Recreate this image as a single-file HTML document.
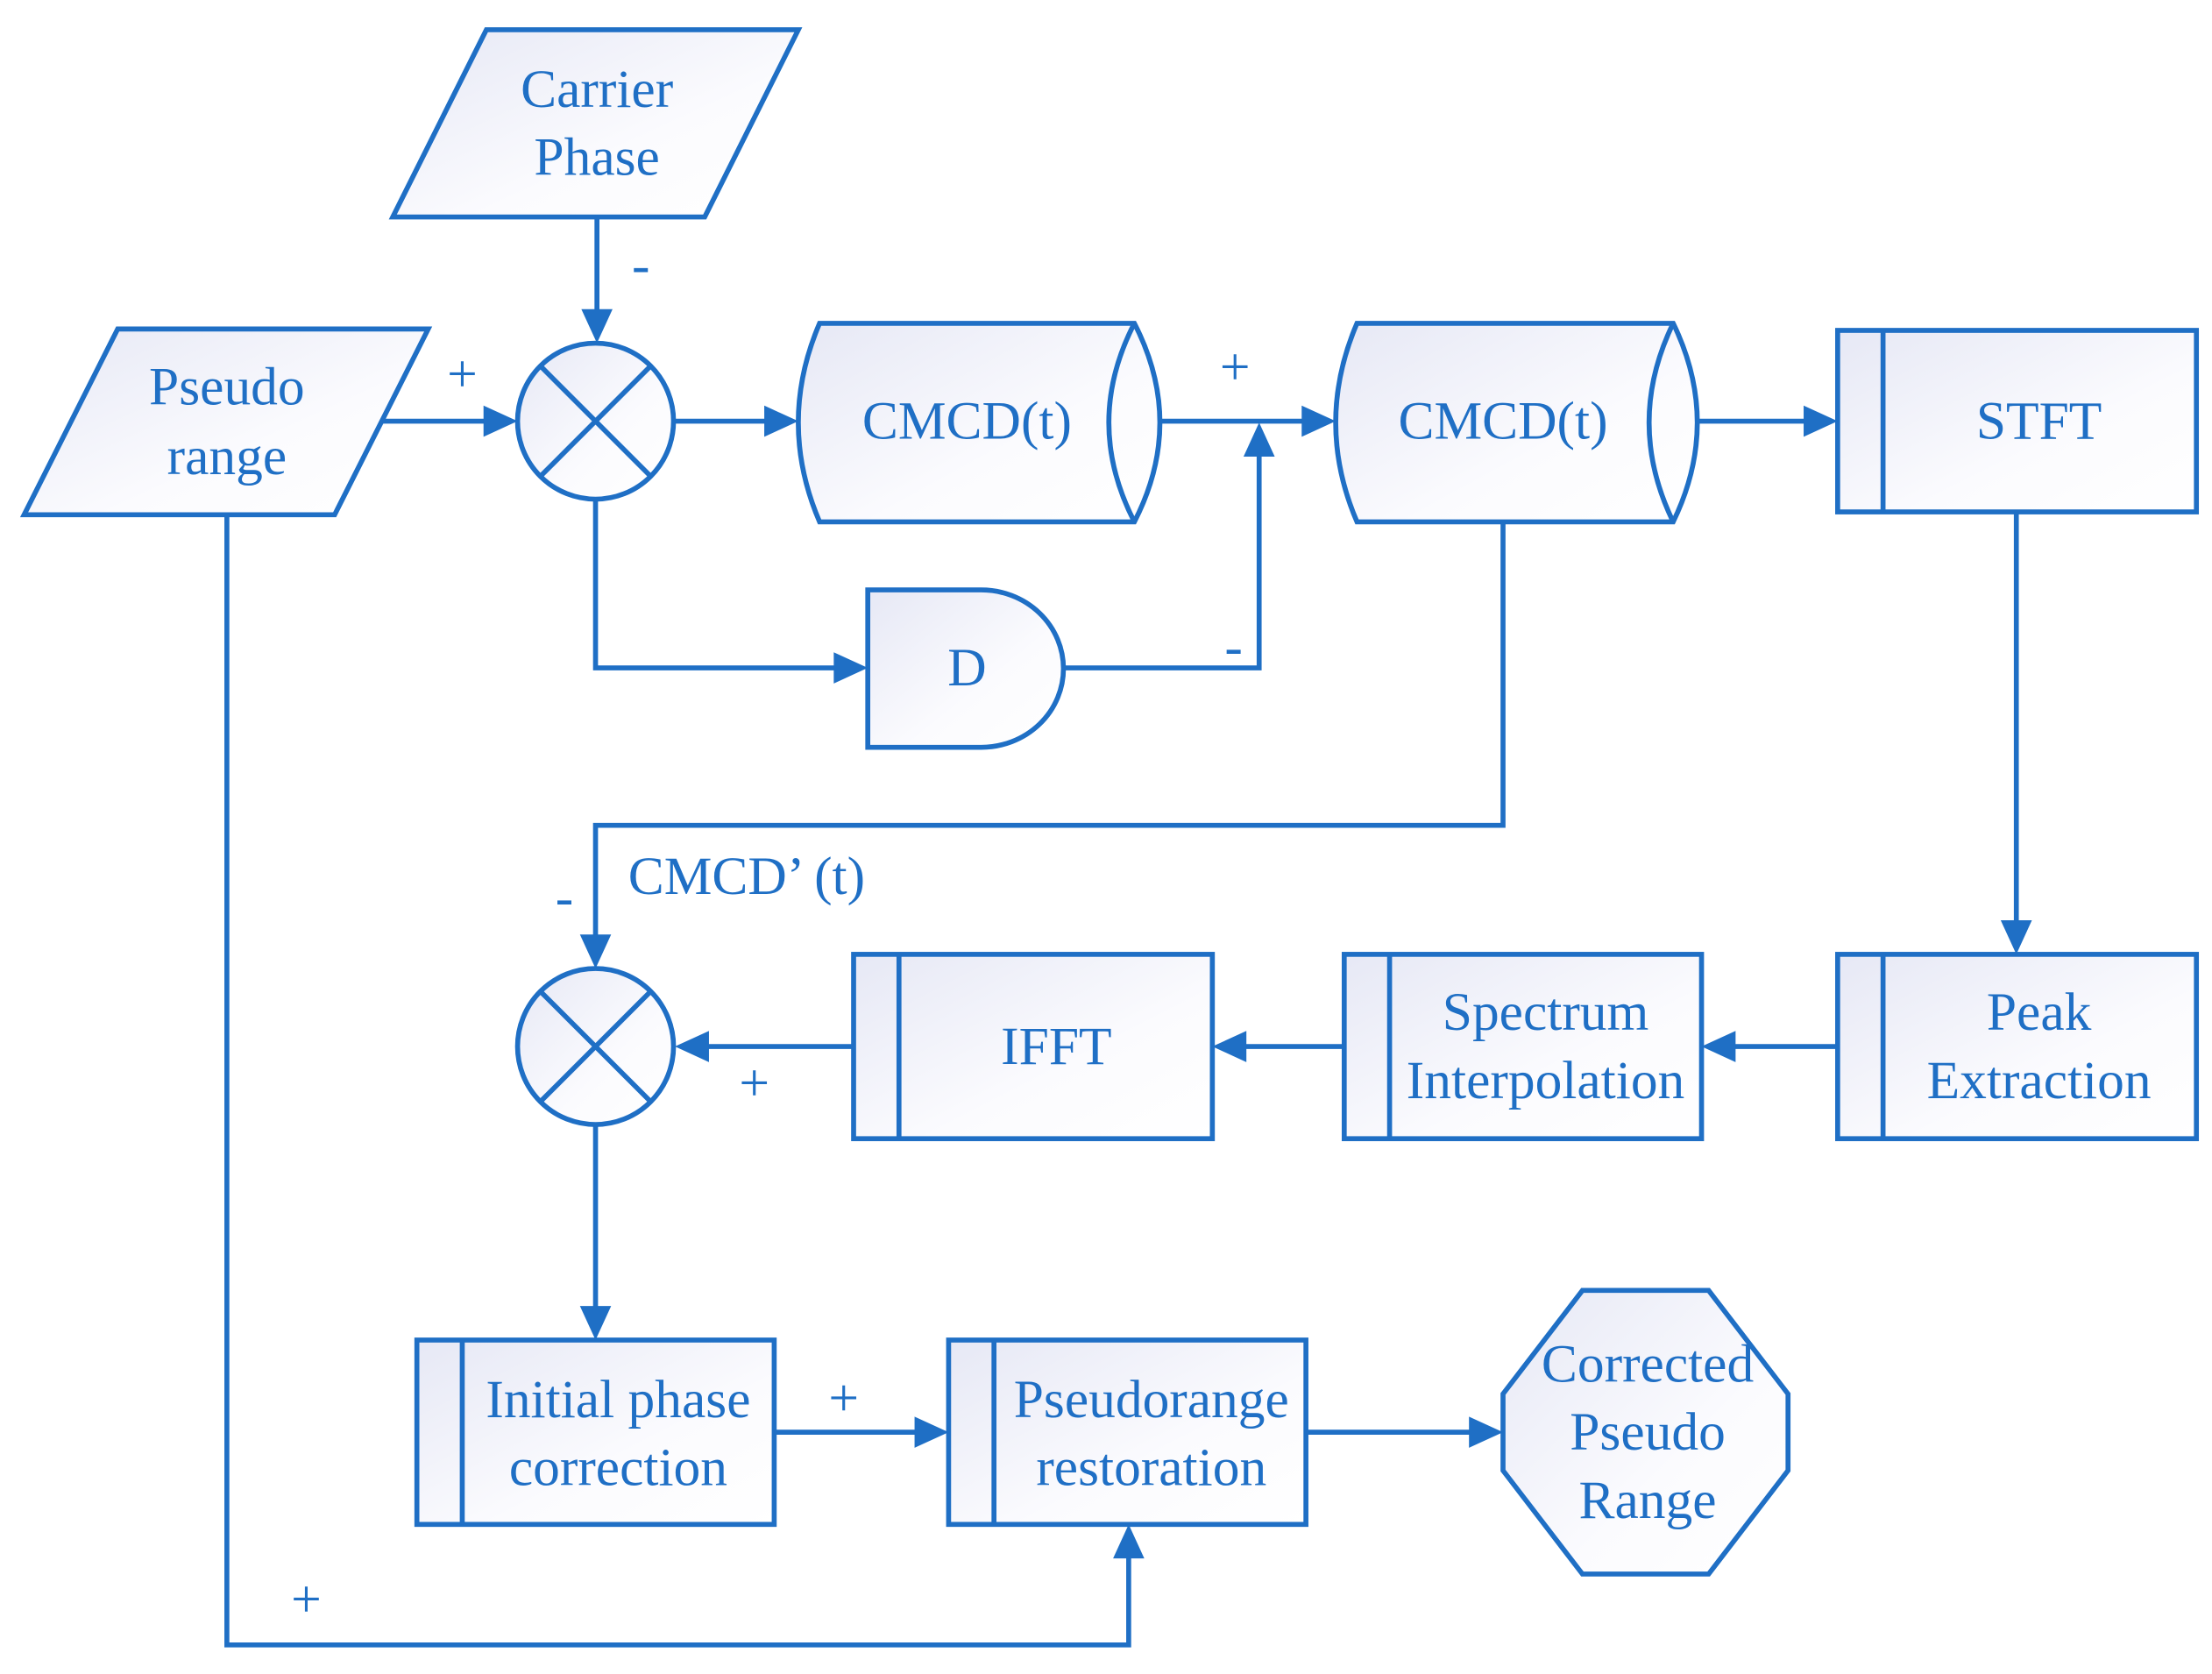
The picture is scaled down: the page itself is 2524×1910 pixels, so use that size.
<!DOCTYPE html>
<html><head><meta charset="utf-8"><style>
html,body{margin:0;padding:0;background:#fff;}
svg{display:block;}
text{font-family:"Liberation Serif",serif;font-size:38px;fill:#1f6fc5;text-anchor:middle;dominant-baseline:central;}
</style></head><body>
<svg width="2524" height="1910" viewBox="0 0 1560 1180.5" preserveAspectRatio="none" xmlns="http://www.w3.org/2000/svg">
<defs>
<linearGradient id="g" x1="0" y1="0" x2="1" y2="1">
<stop offset="0" stop-color="#e6e8f5"/><stop offset="0.6" stop-color="#fbfbfe"/><stop offset="1" stop-color="#ffffff"/>
</linearGradient>
</defs>
<g fill="url(#g)" stroke="#1f6fc5" stroke-width="3.5">
<polygon points="343,21 563,21 497,153 277,153"/>
<polygon points="83,232 302,232 236,363 17,363"/>
<circle cx="420" cy="297" r="55"/>
<circle cx="420" cy="738" r="55"/>
<path d="M578,228 L800,228 Q836,298 800,368 L578,368 Q548,298 578,228 Z"/>
<path d="M800,228 Q764,298 800,368" fill="none"/>
<path d="M957,228 L1180,228 Q1214,298 1180,368 L957,368 Q927,298 957,228 Z"/>
<path d="M1180,228 Q1146,298 1180,368" fill="none"/>
<path d="M612,416 H692 A 58,55.5 0 0 1 692,527 H612 Z"/>
<rect x="1296" y="233" width="253" height="128"/><line x1="1328" y1="233" x2="1328" y2="361"/>
<rect x="1296" y="673" width="253" height="130"/><line x1="1328" y1="673" x2="1328" y2="803"/>
<rect x="948" y="673" width="252" height="130"/><line x1="980" y1="673" x2="980" y2="803"/>
<rect x="602" y="673" width="253" height="130"/><line x1="634" y1="673" x2="634" y2="803"/>
<rect x="294" y="945" width="252" height="130"/><line x1="326" y1="945" x2="326" y2="1075"/>
<rect x="669" y="945" width="252" height="130"/><line x1="701" y1="945" x2="701" y2="1075"/>
<polygon points="1116,910 1205,910 1261,983 1261,1037 1205,1110 1116,1110 1060,1037 1060,983"/>
</g>
<g stroke="#1f6fc5" stroke-width="3.5" fill="none">
<line x1="381" y1="258" x2="459" y2="336"/><line x1="459" y1="258" x2="381" y2="336"/>
<line x1="381" y1="699" x2="459" y2="777"/><line x1="459" y1="699" x2="381" y2="777"/>
<line x1="421" y1="153" x2="421" y2="225"/>
<line x1="270" y1="297" x2="345" y2="297"/>
<line x1="476" y1="297" x2="545" y2="297"/>
<line x1="818" y1="297" x2="924" y2="297"/>
<polyline points="750,471 888,471 888,318"/>
<polyline points="420,352 420,471 594,471"/>
<line x1="1196" y1="297" x2="1278" y2="297"/>
<line x1="1422" y1="361" x2="1422" y2="655"/>
<polyline points="1060,368 1060,582 420,582 420,665"/>
<line x1="1296" y1="738" x2="1218" y2="738"/>
<line x1="948" y1="738" x2="873" y2="738"/>
<line x1="602" y1="738" x2="494" y2="738"/>
<line x1="420" y1="793" x2="420" y2="927"/>
<line x1="546" y1="1010" x2="651" y2="1010"/>
<line x1="921" y1="1010" x2="1042" y2="1010"/>
<polyline points="160,363 160,1160 796,1160 796,1093"/>
</g>
<g fill="#1f6fc5">
<polygon points="421,242 410,218 432,218"/>
<polygon points="365,297 341,286 341,308"/>
<polygon points="563,297 539,286 539,308"/>
<polygon points="942,297 918,286 918,308"/>
<polygon points="888,298 877,322 899,322"/>
<polygon points="612,471 588,460 588,482"/>
<polygon points="1296,297 1272,286 1272,308"/>
<polygon points="1422,673 1411,649 1433,649"/>
<polygon points="420,683 409,659 431,659"/>
<polygon points="1200,738 1224,727 1224,749"/>
<polygon points="855,738 879,727 879,749"/>
<polygon points="476,738 500,727 500,749"/>
<polygon points="420,945 409,921 431,921"/>
<polygon points="669,1010 645,999 645,1021"/>
<polygon points="1060,1010 1036,999 1036,1021"/>
<polygon points="796,1075 785,1099 807,1099"/>
</g>
<text x="421" y="63">Carrier</text><text x="421" y="111">Phase</text>
<text x="160" y="273">Pseudo</text><text x="160" y="322">range</text>
<text x="682" y="297">CMCD(t)</text>
<text x="1060" y="297">CMCD(t)</text>
<text x="682" y="471">D</text>
<text x="1438" y="297">STFT</text>
<text x="1438" y="714">Peak</text><text x="1438" y="762">Extraction</text>
<text x="1090" y="714">Spectrum</text><text x="1090" y="762">Interpolation</text>
<text x="745" y="738">IFFT</text>
<text x="436" y="987">Initial phase</text><text x="436" y="1035">correction</text>
<text x="812" y="987">Pseudorange</text><text x="812" y="1035">restoration</text>
<text x="1162" y="962">Corrected</text><text x="1162" y="1010">Pseudo</text><text x="1162" y="1058">Range</text>
<text x="443" y="618" style="text-anchor:start">CMCD’ (t)</text>
<g style="font-size:30px">
<text x="452" y="187">-</text>
<text x="326" y="264">+</text>
<text x="871" y="259">+</text>
<text x="870" y="456">-</text>
<text x="398" y="633">-</text>
<text x="532" y="764">+</text>
<text x="595" y="986">+</text>
<text x="216" y="1128">+</text>
</g>
</svg>
</body></html>
